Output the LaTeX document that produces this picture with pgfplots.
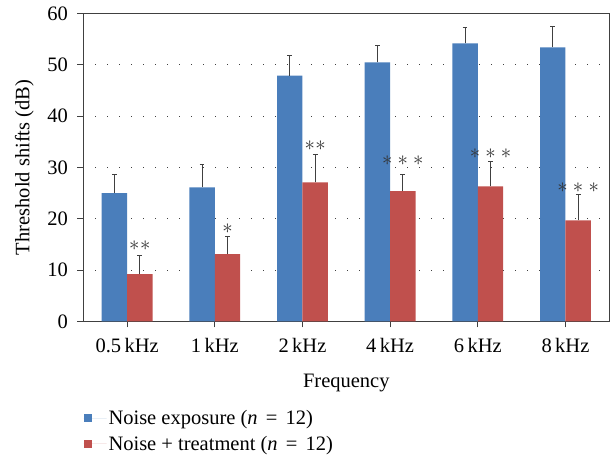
\documentclass[border=0pt]{standalone}
\usepackage{fontspec}
\setmainfont{Liberation Serif}
\usepackage{pgfplots}
\pgfplotsset{compat=1.18}
\usepackage{pgfplotstable}
\definecolor{barblue}{RGB}{74,126,187}
\definecolor{barred}{RGB}{192,80,77}
\definecolor{axgray}{RGB}{64,64,64}
\newcommand{\onestar}{$\ast$}
\newcommand{\twostar}{$\ast\mkern0.5mu\ast$}
\newcommand{\threestar}{$\ast\mkern0.5mu\ast\mkern0.5mu\ast$}
\newcommand{\fs}{\fontsize{20.5}{24}\selectfont}
\newcommand{\eqs}{\hspace{0.4em}=\hspace{0.4em}}
\pgfplotsset{
  layers/mylayers/.define layer set={axis background,axis grid,main,axis ticks,axis lines,axis tick labels,axis descriptions,axis foreground}{},
}
\pgfplotstableread{
x y e
0 25.0 3.7
1 26.1 4.5
2 47.9 4.0
3 50.5 3.2
4 54.2 3.1
5 53.4 4.0
}\blue
\pgfplotstableread{
x y e
0 9.2 3.6
1 13.1 3.4
2 27.1 5.5
3 25.4 3.2
4 26.3 4.8
5 19.7 5.1
}\red
\pgfplotstableread{
x y l
0.145 14.8 \twostar
1.145 18.1 \onestar
2.145 34.3 \twostar
3.145 31.4 \threestar
4.145 32.7 \threestar
5.145 26.1 \threestar
}\stars
\begin{document}
\begin{tikzpicture}
\begin{axis}[
  name=ax,
  set layers=mylayers,
  scale only axis,
  width=526pt, height=307.7pt,
  xmin=-0.5, xmax=5.5,
  ymin=0, ymax=60,
  xtick={0,1,2,3,4,5},
  xticklabels={0.5\,kHz,1\,kHz,2\,kHz,4\,kHz,6\,kHz,8\,kHz},
  ytick={0,10,20,30,40,50,60},
  tick pos=left,
  tick align=outside,
  major tick length=6pt,
  tick style={axgray, line width=0.9pt},
  axis line style={axgray, line width=0.9pt},
  ymajorgrids,
  major grid style={axgray, line width=0.9pt, dash pattern=on 0.9pt off 11.1pt},
  /pgf/number format/assume math mode=true,
  tick label style={font=\fs, text=black},
  xticklabel style={yshift=-7pt},
  yticklabel style={xshift=-6pt},
  label style={font=\fs, text=black},
  xlabel={Frequency},
  ylabel={Threshold shifts (dB)},
  xlabel style={at={(axis description cs:0.5,-0.172)}, anchor=north, inner sep=0pt},
  ylabel style={at={(axis description cs:-0.094,0.5)}, anchor=south, inner sep=0pt},
  ybar,
  bar width=0.29,
  legend style={at={(axis description cs:0,-0.282)}, anchor=north west, draw=none, fill=none, font=\fs, row sep=6pt, inner sep=0pt},
  legend cell align=left,
  legend image code/.code={\fill[#1] (0pt,-4pt) rectangle (8pt,4pt); \path (0pt,0pt) -- (23pt,0pt);},
]
\addplot[fill=barblue, draw=none, bar shift=-0.145,
  error bars/.cd, y dir=plus, y explicit,
  error bar style={axgray, line width=1.1pt},
  error mark options={axgray, line width=1.1pt, mark size=2.4pt, rotate=90}]
  table[x=x, y=y, y error=e] {\blue};
\addlegendentry{Noise exposure (\textit{n}\eqs12)}
\addplot[fill=barred, draw=none, bar shift=0.145,
  error bars/.cd, y dir=plus, y explicit,
  error bar style={axgray, line width=1.1pt},
  error mark options={axgray, line width=1.1pt, mark size=2.4pt, rotate=90}]
  table[x=x, y=y, y error=e] {\red};
\addlegendentry{Noise + treatment (\textit{n}\eqs12)}
\addplot[only marks, mark=none, forget plot, bar shift=0pt, nodes near coords, point meta=explicit symbolic,
  nodes near coords style={anchor=center, font=\fontsize{22}{24}\selectfont, text=axgray!80!black}]
  table[x=x, y=y, meta=l] {\stars};
\end{axis}
\pgfresetboundingbox
\path[use as bounding box] ([shift={(-83.3pt,-133pt)}]ax.south west) rectangle ([shift={(526.7pt,321.3pt)}]ax.south west);
\end{tikzpicture}
\end{document}
